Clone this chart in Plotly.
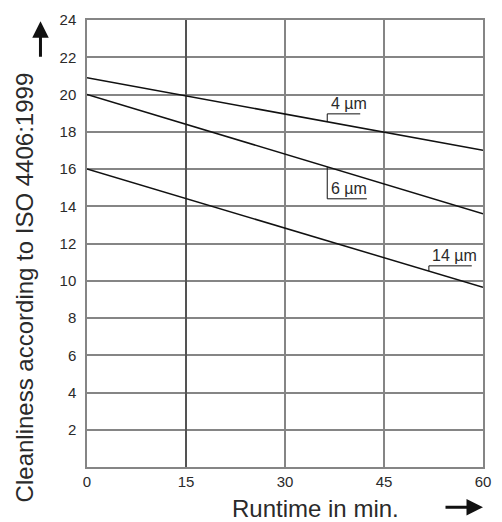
import numpy as np
import plotly.graph_objects as go

# Data
runtime = [0, 60]
clean_4um = [20.9, 17.0]
clean_6um = [20.0, 13.6]
clean_14um = [16.0, 9.65]
series_names = ["4 µm", "6 µm", "14 µm"]
x_ticks = [0, 15, 30, 45, 60]
y_ticks = [2, 4, 6, 8, 10, 12, 14, 16, 18, 20, 22, 24]

GRID = "#858585"
FONT = "Liberation Sans, Arial, sans-serif"
TXT = "#2a2a2a"

fig = go.Figure()

for ys in (clean_4um, clean_6um, clean_14um):
    fig.add_trace(go.Scatter(x=runtime, y=ys, mode="lines",
                             line=dict(color="#111111", width=1.5),
                             showlegend=False, hoverinfo="skip"))

# leader lines for labels: (series, leader x, end x, end y)
leaders = [
    (clean_4um, 36.4, 41.4, 18.96),
    (clean_6um, 36.4, 42.4, 14.4),
    (clean_14um, 51.8, 58.3, 10.8),
]
for (ys, lx, ex, ey), name in zip(leaders, series_names):
    y0 = float(np.interp(lx, runtime, ys))
    fig.add_trace(go.Scatter(x=[lx, lx, ex], y=[y0, ey, ey], mode="lines",
                             line=dict(color="#111111", width=1),
                             showlegend=False, hoverinfo="skip"))
    fig.add_annotation(x=lx + 0.2, y=ey, text=name, showarrow=False,
                       xanchor="left", yanchor="bottom",
                       font=dict(family=FONT, size=16, color=TXT))

# darker vertical line at 15
fig.add_shape(type="line", x0=15, x1=15, y0=0, y1=24, xref="x", yref="y",
              line=dict(color="#222222", width=1))

# y title
fig.add_annotation(text="Cleanliness according to ISO 4406:1999",
                   xref="paper", yref="paper", x=-0.1575, y=0.401,
                   textangle=-90, showarrow=False, xanchor="center", yanchor="middle",
                   font=dict(family=FONT, size=24, color=TXT))
# x title
fig.add_annotation(text="Runtime in min.", xref="paper", yref="paper",
                   x=0.5775, y=-0.092, showarrow=False, xanchor="center", yanchor="middle",
                   font=dict(family=FONT, size=24, color=TXT))
# arrows
fig.add_annotation(x=-0.1175, y=0.997, xref="paper", yref="paper", ax=0, ay=37,
                   text="", showarrow=True, arrowhead=2, arrowsize=1.1,
                   arrowwidth=3, arrowcolor="#111111")
fig.add_annotation(x=1.0, y=-0.0899, xref="paper", yref="paper", ax=-39, ay=0,
                   text="", showarrow=True, arrowhead=2, arrowsize=1.1,
                   arrowwidth=3, arrowcolor="#111111")

fig.update_layout(
    width=502, height=522,
    margin=dict(l=87, r=15, t=11, b=55),
    paper_bgcolor="white", plot_bgcolor="white",
    font=dict(family=FONT, size=15, color=TXT),
    xaxis=dict(range=[0, 60], tickvals=x_ticks, showgrid=True, gridcolor=GRID,
               gridwidth=1.5, showline=True, linecolor=GRID, linewidth=1.5,
               mirror=True, zeroline=False, ticks="", ticklabelstandoff=0,
               tickfont=dict(size=15)),
    yaxis=dict(range=[0, 24], tickvals=y_ticks, showgrid=True, gridcolor=GRID,
               gridwidth=1.5, showline=True, linecolor=GRID, linewidth=1.5,
               mirror=True, zeroline=False, ticks="", ticklabelstandoff=6,
               tickfont=dict(size=15)),
)

fig.write_html("out.html")
